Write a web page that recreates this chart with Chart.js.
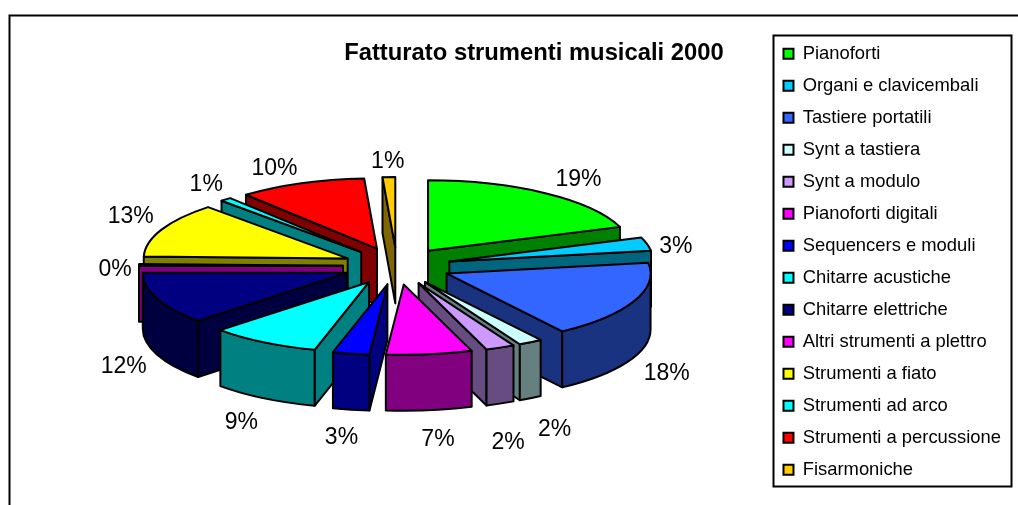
<!DOCTYPE html>
<html lang="it">
<head>
<meta charset="utf-8">
<title>Fatturato strumenti musicali 2000</title>
<script src="https://cdn.jsdelivr.net/npm/chart.js@4/dist/chart.umd.min.js"></script>
<style>
  html, body { margin: 0; padding: 0; background: #fff; }
  canvas { display: block; }
</style>
</head>
<body>
<canvas id="chart" width="1018" height="505"></canvas>
<script>
// Dati
const categories = [
  'Pianoforti', 'Organi e clavicembali', 'Tastiere portatili', 'Synt a tastiera',
  'Synt a modulo', 'Pianoforti digitali', 'Sequencers e moduli', 'Chitarre acustiche',
  'Chitarre elettriche', 'Altri strumenti a plettro', 'Strumenti a fiato',
  'Strumenti ad arco', 'Strumenti a percussione', 'Fisarmoniche'
];
const shares = [19.49, 3.1, 17.81, 1.9, 2.3, 6.8, 2.9, 8.7, 12.0, 0.4, 12.6, 0.9, 10.1, 1.0];
const colors = [
  '#00FF00', '#00CCFF', '#3366FF', '#CCFFFF', '#CC99FF', '#FF00FF', '#0000FF',
  '#00FFFF', '#000080', '#FF00FF', '#FFFF00', '#00FFFF', '#FF0000', '#FFCC00'
];
const sideColors = [
  '#008000', '#006680', '#1A3380', '#668080', '#664C80', '#800080', '#000080',
  '#008080', '#000040', '#800080', '#808000', '#008080', '#800000', '#806600'
];

// Geometria della torta 3D
const PIE_X = 397, PIE_Y = 266, TILT = 0.345, DEPTH = 56;
const LABEL_FONT = '23px "Liberation Sans", Arial, sans-serif';
// Piccole correzioni alla posizione delle etichette
const labelNudge = [
  [12, 0], [-7, 7], [-1, 0], [5, 8], [-7, 14], [4, 3], [-3, 2],
  [-3, 1], [1, -4], [13, 5], [3, -6], [5, -3], [-13, 0], [0, 1]
];

function tracePoly(ctx, fill, build) {
  ctx.beginPath();
  build();
  ctx.closePath();
  ctx.fillStyle = fill;
  ctx.fill();
  ctx.stroke();
}

// Disegna uno spicchio estruso partendo dagli angoli calcolati da Chart.js
function drawSlice(ctx, arc, index) {
  const a0 = arc.startAngle, a1 = arc.endAngle;
  const R = arc.outerRadius;
  const mid = (a0 + a1) / 2;
  const off = arc.options.offset;
  const cx = PIE_X + Math.cos(mid) * off;
  const cy = PIE_Y + Math.sin(mid) * off * TILT;
  const ry = R * TILT;
  const px = a => cx + Math.cos(a) * R;
  const py = a => cy + Math.sin(a) * ry;
  const side = sideColors[index];

  // parete radiale iniziale (visibile se guarda verso il basso)
  if (Math.cos(a0) < 0) {
    tracePoly(ctx, side, () => {
      ctx.moveTo(cx, cy);
      ctx.lineTo(px(a0), py(a0));
      ctx.lineTo(px(a0), py(a0) + DEPTH);
      ctx.lineTo(cx, cy + DEPTH);
    });
  }
  // parete radiale finale
  if (Math.cos(a1) > 0) {
    tracePoly(ctx, side, () => {
      ctx.moveTo(cx, cy);
      ctx.lineTo(px(a1), py(a1));
      ctx.lineTo(px(a1), py(a1) + DEPTH);
      ctx.lineTo(cx, cy + DEPTH);
    });
  }
  // parete esterna, solo la parte davanti
  const w0 = Math.max(a0, 0), w1 = Math.min(a1, Math.PI);
  if (w1 > w0) {
    tracePoly(ctx, side, () => {
      ctx.ellipse(cx, cy, R, ry, 0, w0, w1);
      ctx.lineTo(px(w1), py(w1) + DEPTH);
      ctx.ellipse(cx, cy + DEPTH, R, ry, 0, w1, w0, true);
    });
  }
  // faccia superiore
  tracePoly(ctx, colors[index], () => {
    ctx.moveTo(cx, cy);
    ctx.ellipse(cx, cy, R, ry, 0, a0, a1);
  });
}

const pie3d = {
  id: 'pie3d',
  beforeDatasetsDraw(chart) {
    const { ctx } = chart;
    const arcs = chart.getDatasetMeta(0).data;
    const order = arcs.map((arc, i) => i).sort((p, q) => {
      const mp = (arcs[p].startAngle + arcs[p].endAngle) / 2;
      const mq = (arcs[q].startAngle + arcs[q].endAngle) / 2;
      return Math.sin(mp) - Math.sin(mq);
    });
    ctx.save();
    ctx.strokeStyle = '#000';
    ctx.lineWidth = 2;
    ctx.lineJoin = 'round';
    order.forEach(i => drawSlice(ctx, arcs[i], i));
    ctx.restore();

    // etichette percentuali
    const total = shares.reduce((a, b) => a + b, 0);
    ctx.save();
    ctx.font = LABEL_FONT;
    ctx.fillStyle = '#000';
    ctx.textAlign = 'center';
    ctx.textBaseline = 'middle';
    arcs.forEach((arc, i) => {
      const mid = (arc.startAngle + arc.endAngle) / 2;
      const x = PIE_X + Math.cos(mid) * 295 + labelNudge[i][0];
      const front = Math.sin(mid) > 0 ? DEPTH + 10 : 0;
      const y = PIE_Y + Math.sin(mid) * 105 + front + labelNudge[i][1];
      ctx.fillText(Math.round(shares[i] / total * 100) + '%', x, y);
    });
    ctx.restore();
    return false;
  },
  afterDraw(chart) {
    const { ctx } = chart;
    ctx.save();
    ctx.strokeStyle = '#000';
    ctx.lineWidth = 2;
    // cornice esterna: solo sinistra e alto
    ctx.beginPath();
    ctx.moveTo(9.5, 505);
    ctx.lineTo(9.5, 15.5);
    ctx.lineTo(1018, 15.5);
    ctx.stroke();
    // riquadro della legenda
    ctx.strokeRect(773.5, 35.5, 238, 451);
    ctx.restore();
  }
};

new Chart(document.getElementById('chart'), {
  type: 'pie',
  data: {
    labels: categories,
    datasets: [{
      data: shares,
      backgroundColor: colors,
      borderColor: '#000',
      borderWidth: 2,
      offset: 54,
      radius: 204
    }]
  },
  options: {
    responsive: false,
    animation: false,
    events: [],
    layout: { padding: { left: 298, top: 31, right: 7, bottom: 0 } },
    plugins: {
      tooltip: { enabled: false },
      title: {
        display: true,
        text: 'Fatturato strumenti musicali 2000',
        fullSize: false,
        color: '#000',
        font: { family: '"Liberation Sans", Arial, sans-serif', size: 23.8, weight: 'bold' },
        padding: { top: 8, bottom: 8 }
      },
      legend: {
        position: 'right',
        align: 'start',
        labels: {
          color: '#000',
          boxWidth: 10,
          boxHeight: 10,
          padding: 13.6,
          font: { family: '"Liberation Sans", Arial, sans-serif', size: 18.4 }
        }
      }
    }
  },
  plugins: [pie3d]
});
</script>
</body>
</html>
